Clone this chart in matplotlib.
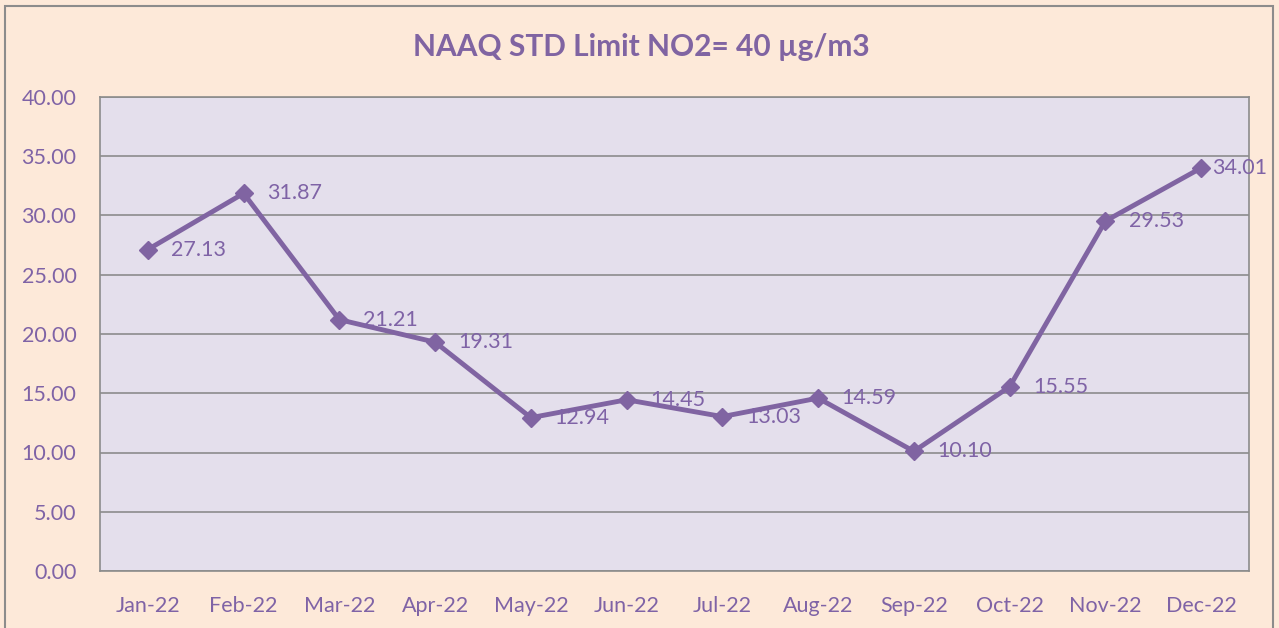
import matplotlib.pyplot as plt
from matplotlib.patches import Rectangle

months = ['Jan-22', 'Feb-22', 'Mar-22', 'Apr-22', 'May-22', 'Jun-22',
          'Jul-22', 'Aug-22', 'Sep-22', 'Oct-22', 'Nov-22', 'Dec-22']
no2 = [27.13, 31.87, 21.21, 19.31, 12.94, 14.45, 13.03, 14.59, 10.10, 15.55, 29.53, 34.01]
yticks = [0, 5, 10, 15, 20, 25, 30, 35, 40]

purple = '#8064A2'
text_col = '#7F63A6'
plt.rcParams['font.family'] = ['Lato', 'DejaVu Sans']

W, H = 1279, 628
fig = plt.figure(figsize=(W / 100, H / 100), dpi=100)
fig.patch.set_facecolor('#FDE9D9')
fig.patches.append(Rectangle((5 / W, -0.01), (1273 - 5) / W, (H - 6) / H + 0.01,
                             transform=fig.transFigure, fill=False,
                             edgecolor='#8C8C8C', linewidth=1.5))

ax = fig.add_axes([100 / W, 1 - 571 / H, (1249 - 100) / W, (571 - 97) / H])
ax.set_facecolor('#E4DFEC')

x = list(range(len(months)))
ax.plot(x, no2, color=purple, linewidth=3.5, marker='D', markersize=9,
        markerfacecolor=purple, markeredgecolor=purple, zorder=3)
for xi, v in zip(x, no2):
    # last label is pulled in so it stays inside the chart, like Excel does
    dx = 8 if xi == len(months) - 1 else 17
    ax.annotate(f'{v:.2f}', (xi, v), xytext=(dx, 0), textcoords='offset points',
                va='center', ha='left', fontsize=15.5, color=text_col, zorder=4,
                annotation_clip=False)

ax.set_xlim(-0.5, len(months) - 0.5)
ax.set_ylim(0, 40)
ax.set_yticks(yticks)
ax.set_yticklabels([f'{t:.2f}' for t in yticks])
ax.set_xticks(x)
ax.set_xticklabels(months)
ax.tick_params(axis='both', length=0, labelsize=15.5, labelcolor=text_col)
ax.tick_params(axis='x', pad=18)
ax.tick_params(axis='y', pad=17)
ax.grid(axis='y', color='#8C8C8C', linewidth=1.2)
ax.set_axisbelow(True)
for s in ax.spines.values():
    s.set_color('#8C8C8C')
    s.set_linewidth(1.2)

fig.text(641 / W, 1 - 47 / H, 'NAAQ STD Limit NO2= 40 µg/m3', ha='center', va='center',
         fontsize=21.5, fontweight='bold', color=purple)

fig.savefig('out.png', dpi=100, facecolor=fig.get_facecolor())
